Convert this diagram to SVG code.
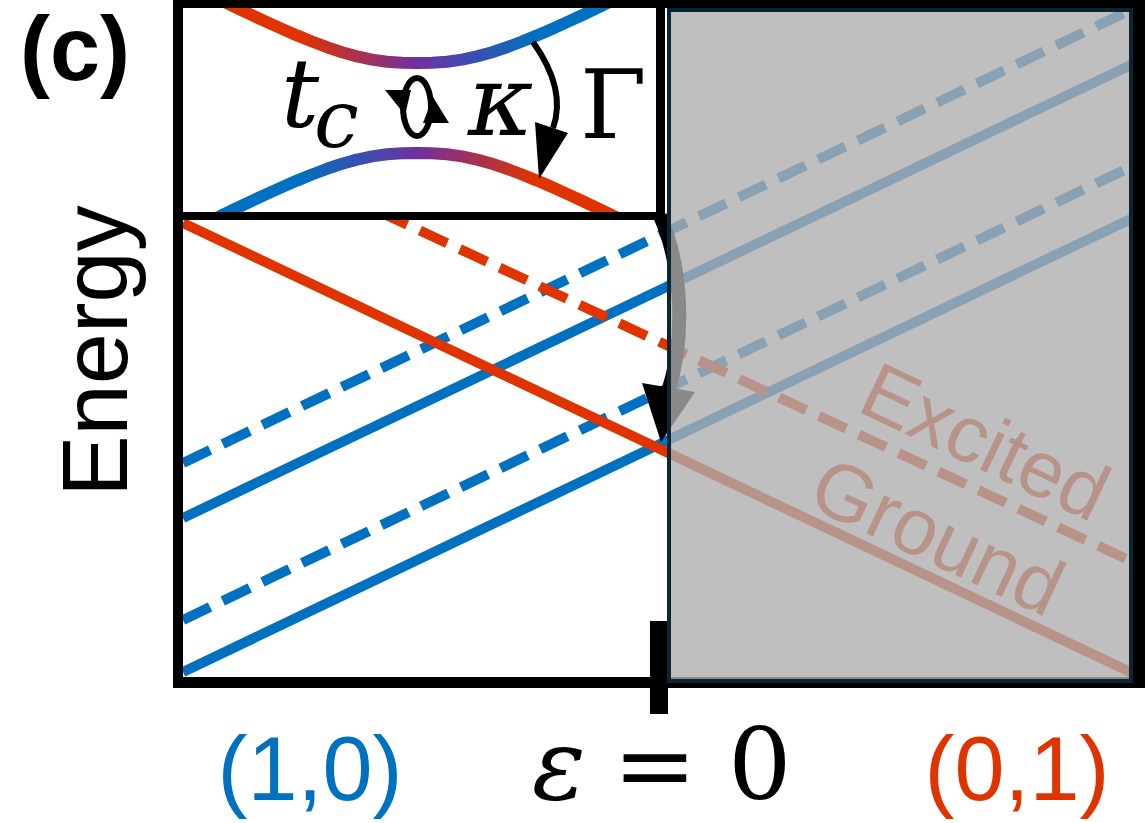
<svg xmlns="http://www.w3.org/2000/svg" width="1148" height="823" viewBox="0 0 1148 823">
<defs>
<style>
.blue{stroke:#0070C0;stroke-width:10;fill:none}
.red{stroke:#DF3300;stroke-width:10;fill:none}
.dash{stroke-dasharray:30 14}
.frame{stroke:#000;fill:none}
.sans{font-family:"Liberation Sans",Arial,sans-serif}
.math{font-family:"DejaVu Serif","Liberation Serif",serif}
</style>
<clipPath id="plotClip"><rect x="183" y="8" width="950" height="669"/></clipPath>
<clipPath id="insetClip"><rect x="183" y="8" width="473" height="204"/></clipPath>
<linearGradient id="gUp" gradientUnits="userSpaceOnUse" x1="300" y1="0" x2="535" y2="0">
<stop offset="0" stop-color="#DF3300"/><stop offset="0.5" stop-color="#7030A0"/><stop offset="1" stop-color="#0070C0"/>
</linearGradient>
<linearGradient id="gDown" gradientUnits="userSpaceOnUse" x1="300" y1="0" x2="535" y2="0">
<stop offset="0" stop-color="#0070C0"/><stop offset="0.5" stop-color="#7030A0"/><stop offset="1" stop-color="#DF3300"/>
</linearGradient>
</defs>
<rect x="0" y="0" width="1148" height="823" fill="#fff"/>

<g id="energy-lines" clip-path="url(#plotClip)">
<line class="blue dash" x1="183" y1="463" x2="1133" y2="8.9"/>
<line class="blue" x1="183" y1="518" x2="1133" y2="63.9"/>
<line class="blue dash" x1="183" y1="620" x2="1133" y2="165.9"/>
<line class="blue" x1="183" y1="672" x2="1133" y2="217.9"/>
<line class="red" x1="183" y1="223" x2="1133" y2="673.3"/>
<line class="red dash" x1="380" y1="212" x2="1133" y2="562"/>
</g>

<g id="state-labels" class="sans" font-size="80" fill="#DF3300">
<text transform="translate(855,410) rotate(25.5)">Excited</text>
<text transform="translate(805,505) rotate(25)">Ground</text>
</g>

<g id="inset">
<rect x="183" y="8" width="473" height="204" fill="#fff"/>
<g clip-path="url(#insetClip)" fill="none" stroke-width="12" stroke-linejoin="round" stroke-linecap="butt">
<polyline stroke="url(#gUp)" points="192,-14 207,-6.6 222,0.8 237,8 252,15.2 267,22.1 282,28.9 297,35.4 312,41.5 327,47.2 342,52.2 357,56.4 372,59.6 387,61.71 402,62.76 417,63 432,62.76 447,61.71 462,59.6 477,56.4 492,52.2 507,47.2 522,41.5 537,35.4 552,28.9 567,22.1 582,15.2 597,8 612,0.8 627,-6.6 642,-14"/>
<polyline stroke="url(#gDown)" points="192,230 207,222.6 222,215.2 237,208 252,200.8 267,193.9 282,187.1 297,180.6 312,174.5 327,168.8 342,163.8 357,159.6 372,156.4 387,154.29 402,153.24 417,153 432,153.24 447,154.29 462,156.4 477,159.6 492,163.8 507,168.8 522,174.5 537,180.6 552,187.1 567,193.9 582,200.8 597,208 612,215.2 627,222.6 642,230"/>
</g>
<g id="coupling-tc" class="math" font-style="italic">
<text x="281" y="127" font-size="95">t</text>
<text x="314" y="147" font-size="80">c</text>
</g>
<g id="coupling-loop">
<ellipse cx="417" cy="107" rx="14" ry="29" fill="none" stroke="#000" stroke-width="6"/>
<polygon points="385,90 411,90 405,115" fill="#000"/>
<polygon points="423,123 449,123 433,97" fill="#000"/>
</g>
<text id="kappa" class="math" font-style="italic" x="468" y="135" font-size="100">κ</text>
<g id="gamma-arrow">
<path d="M533,42 C553,70 563,100 553,128" fill="none" stroke="#000" stroke-width="6"/>
<polygon points="535,122 568,133 539,179" fill="#000"/>
</g>
<text id="gamma" class="math" x="580" y="138" font-size="96">Γ</text>
</g>

<g id="decay-arrow">
<path d="M660,216 C683,268 685,340 668,392" fill="none" stroke="#000" stroke-width="14"/>
<polygon points="642,383 695,392 661,442" fill="#000"/>
</g>

<g id="frame" class="frame">
<line x1="178" y1="0" x2="178" y2="688" stroke-width="10"/>
<line x1="173" y1="4" x2="1145" y2="4" stroke-width="8"/>
<line x1="173" y1="682.5" x2="1145" y2="682.5" stroke-width="11"/>
<line x1="1139" y1="0" x2="1139" y2="688" stroke-width="12"/>
<line x1="178" y1="216" x2="665" y2="216" stroke-width="8"/>
<line x1="660.5" y1="0" x2="660.5" y2="220" stroke-width="9"/>
<rect x="650" y="621" width="18" height="93" fill="#000" stroke="none"/>
</g>

<rect id="shaded-region" x="669" y="10" width="462" height="671" fill="#aeaeae" fill-opacity="0.79" stroke="#0b2535" stroke-width="4"/>

<text id="panel-label" class="sans" font-weight="bold" font-size="90" x="20" y="80">(c)</text>
<text id="axis-label" class="sans" font-size="92" text-anchor="middle" transform="translate(127,351) rotate(-90)">Energy</text>

<g id="x-labels">
<text class="sans" font-size="90" fill="#0070C0" x="310" y="800" text-anchor="middle">(1,0)</text>
<text class="math" font-style="italic" font-size="100" x="532" y="799">ε</text>
<text class="math" font-size="100" x="613" y="799">=</text>
<text class="math" font-size="100" x="728" y="799">0</text>
<text class="sans" font-size="90" fill="#DF3300" x="1017" y="800" text-anchor="middle">(0,1)</text>
</g>
</svg>
